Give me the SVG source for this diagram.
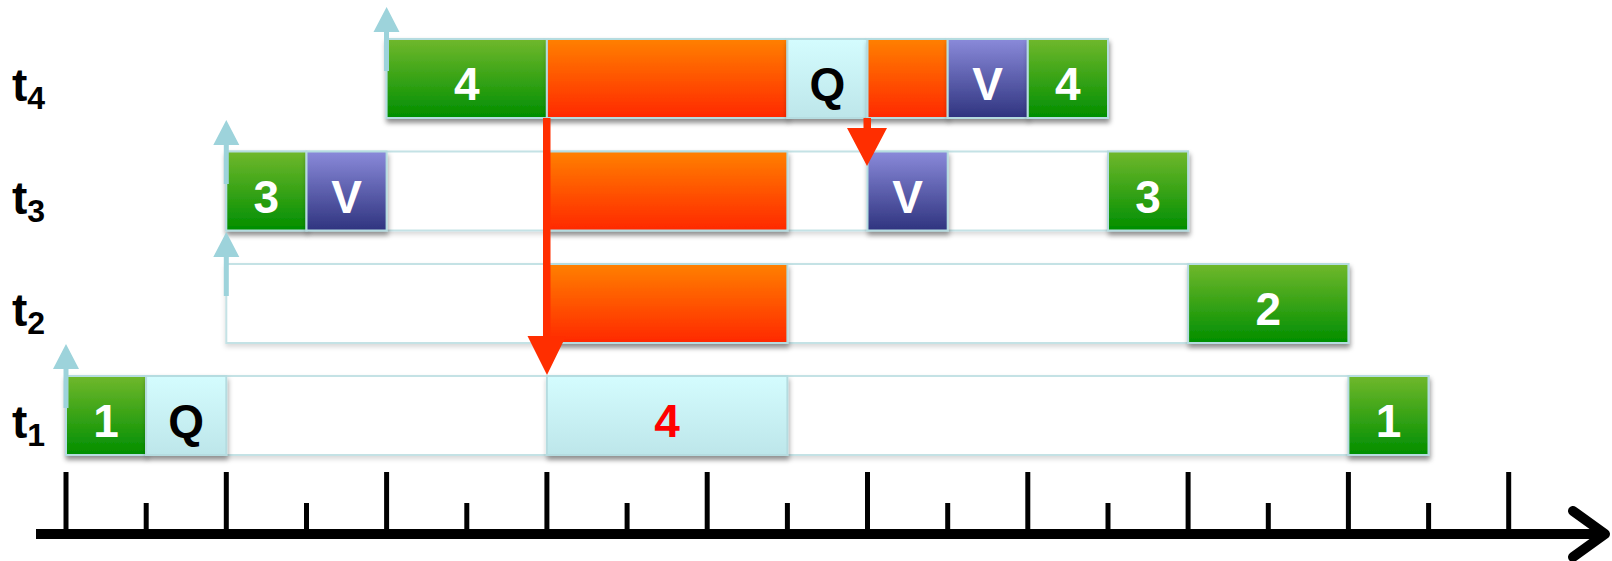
<svg xmlns="http://www.w3.org/2000/svg" width="1612" height="561" viewBox="0 0 1612 561">
<defs>
<linearGradient id="gGreen" x1="0" y1="0" x2="0" y2="1"><stop offset="0" stop-color="#70B82C"/><stop offset="1" stop-color="#008E00"/></linearGradient>
<linearGradient id="gOrange" x1="0" y1="0" x2="0" y2="1"><stop offset="0" stop-color="#FF8000"/><stop offset="1" stop-color="#FF2800"/></linearGradient>
<linearGradient id="gPurple" x1="0" y1="0" x2="0" y2="1"><stop offset="0" stop-color="#8A8ADA"/><stop offset="1" stop-color="#2F347F"/></linearGradient>
<linearGradient id="gCyan" x1="0" y1="0" x2="0" y2="1"><stop offset="0" stop-color="#D4FCFE"/><stop offset="1" stop-color="#BDE6EA"/></linearGradient>
<filter id="sh" x="-10%" y="-20%" width="120%" height="150%"><feDropShadow dx="1" dy="4" stdDeviation="2.5" flood-color="#000" flood-opacity="0.35"/></filter>
<filter id="sh2" x="-5%" y="-20%" width="110%" height="150%"><feDropShadow dx="0" dy="3" stdDeviation="2.5" flood-color="#000" flood-opacity="0.15"/></filter>
</defs>
<style>
.row{fill:#fff;stroke:#C4E2E5;stroke-width:2;filter:url(#sh2)}
.blk{stroke:#B5DCE0;stroke-width:2;filter:url(#sh)}
.green{fill:url(#gGreen)}
.orange{fill:url(#gOrange)}
.purple{fill:url(#gPurple)}
.cyan{fill:url(#gCyan)}
.tx{font-family:"Liberation Sans",Arial,sans-serif;font-weight:bold;font-size:46px;text-anchor:middle}
.w{fill:#fff}
.k{fill:#000}
.r{fill:#FF0000}
.lab{font-family:"Liberation Sans",Arial,sans-serif;font-weight:bold;fill:#000}
.up{fill:#9DD3DB}
.red{fill:#FF2E00}
.tick{stroke:#000;stroke-width:5}
</style>

<g id="labels">
<text class="lab" x="12" y="101" font-size="46">t<tspan font-size="32" dy="8">4</tspan></text>
<text class="lab" x="12" y="213.5" font-size="46">t<tspan font-size="32" dy="8">3</tspan></text>
<text class="lab" x="12" y="326" font-size="46">t<tspan font-size="32" dy="8">2</tspan></text>
<text class="lab" x="12" y="438" font-size="46">t<tspan font-size="32" dy="8">1</tspan></text>
</g>

<g id="row-t4">
<rect class="row" x="386.6" y="39" width="721.4" height="79"/>
<g id="t4-b1"><rect class="blk green" x="386.6" y="39" width="160.3" height="79"/><text class="tx w" x="466.8" y="100">4</text></g>
<g id="t4-b2"><rect class="blk orange" x="546.9" y="39" width="240.5" height="79"/></g>
<g id="t4-b3"><rect class="blk cyan" x="787.4" y="39" width="80.1" height="79"/><text class="tx k" x="827.4" y="100">Q</text></g>
<g id="t4-b4"><rect class="blk orange" x="867.5" y="39" width="80.2" height="79"/></g>
<g id="t4-b5"><rect class="blk purple" x="947.7" y="39" width="80.1" height="79"/><text class="tx w" x="987.7" y="100">V</text></g>
<g id="t4-b6"><rect class="blk green" x="1027.8" y="39" width="80.2" height="79"/><text class="tx w" x="1067.9" y="100">4</text></g>
</g>

<g id="row-t3">
<rect class="row" x="226.3" y="151.5" width="961.8" height="79"/>
<g id="t3-b1"><rect class="blk green" x="226.3" y="151.5" width="80.2" height="79"/><text class="tx w" x="266.4" y="212.5">3</text></g>
<g id="t3-b2"><rect class="blk purple" x="306.5" y="151.5" width="80.1" height="79"/><text class="tx w" x="346.5" y="212.5">V</text></g>
<g id="t3-b3"><rect class="blk orange" x="546.9" y="151.5" width="240.5" height="79"/></g>
<g id="t3-b4"><rect class="blk purple" x="867.5" y="151.5" width="80.2" height="79"/><text class="tx w" x="907.6" y="212.5">V</text></g>
<g id="t3-b5"><rect class="blk green" x="1108" y="151.5" width="80.1" height="79"/><text class="tx w" x="1148" y="212.5">3</text></g>
</g>

<g id="row-t2">
<rect class="row" x="226.3" y="264" width="1122.1" height="79"/>
<g id="t2-b1"><rect class="blk orange" x="546.9" y="264" width="240.5" height="79"/></g>
<g id="t2-b2"><rect class="blk green" x="1188.1" y="264" width="160.3" height="79"/><text class="tx w" x="1268.3" y="325">2</text></g>
</g>

<g id="row-t1">
<rect class="row" x="66" y="376" width="1362.5" height="79"/>
<g id="t1-b1"><rect class="blk green" x="66" y="376" width="80.1" height="79"/><text class="tx w" x="106" y="437">1</text></g>
<g id="t1-b2"><rect class="blk cyan" x="146.1" y="376" width="80.2" height="79"/><text class="tx k" x="186.2" y="437">Q</text></g>
<g id="t1-b3"><rect class="blk cyan" x="546.9" y="376" width="240.5" height="79"/><text class="tx r" x="667.1" y="437">4</text></g>
<g id="t1-b4"><rect class="blk green" x="1348.4" y="376" width="80.1" height="79"/><text class="tx w" x="1388.5" y="437">1</text></g>
</g>

<g id="connectors">
<g id="start-arrows">
<path class="up" d="M384 71 V32 H373.5 L386.6 7 L399.5 32 H389 V71 Z"/>
<path class="up" d="M223.8 184 V145 H213.3 L226.3 120 L239.3 145 H228.8 V184 Z"/>
<path class="up" d="M223.8 296 V257 H213.3 L226.3 232 L239.3 257 H228.8 V296 Z"/>
<path class="up" d="M63.5 408 V369 H53 L66 344 L79 369 H68.5 V408 Z"/>
</g>
<g id="red-arrows">
<path class="red" d="M543 118 H550.5 V336 H566 L547 375 L527.5 336 H543 Z"/>
<path class="red" d="M863.5 118 H871 V128 H887 L867 166 L847 128 H863.5 Z"/>
</g>
<g id="axis">
<line x1="36" y1="534" x2="1600" y2="534" stroke="#000" stroke-width="10"/>
<polyline points="1573,511 1605,534 1573,557" fill="none" stroke="#000" stroke-width="10" stroke-linecap="round" stroke-linejoin="round"/>
<line class="tick" x1="66" y1="472" x2="66" y2="534"/>
<line class="tick" x1="146.2" y1="503" x2="146.2" y2="534"/>
<line class="tick" x1="226.3" y1="472" x2="226.3" y2="534"/>
<line class="tick" x1="306.5" y1="503" x2="306.5" y2="534"/>
<line class="tick" x1="386.6" y1="472" x2="386.6" y2="534"/>
<line class="tick" x1="466.8" y1="503" x2="466.8" y2="534"/>
<line class="tick" x1="546.9" y1="472" x2="546.9" y2="534"/>
<line class="tick" x1="627.1" y1="503" x2="627.1" y2="534"/>
<line class="tick" x1="707.2" y1="472" x2="707.2" y2="534"/>
<line class="tick" x1="787.4" y1="503" x2="787.4" y2="534"/>
<line class="tick" x1="867.5" y1="472" x2="867.5" y2="534"/>
<line class="tick" x1="947.7" y1="503" x2="947.7" y2="534"/>
<line class="tick" x1="1027.8" y1="472" x2="1027.8" y2="534"/>
<line class="tick" x1="1108" y1="503" x2="1108" y2="534"/>
<line class="tick" x1="1188.1" y1="472" x2="1188.1" y2="534"/>
<line class="tick" x1="1268.3" y1="503" x2="1268.3" y2="534"/>
<line class="tick" x1="1348.4" y1="472" x2="1348.4" y2="534"/>
<line class="tick" x1="1428.6" y1="503" x2="1428.6" y2="534"/>
<line class="tick" x1="1508.7" y1="472" x2="1508.7" y2="534"/>
</g>
</g>
</svg>
